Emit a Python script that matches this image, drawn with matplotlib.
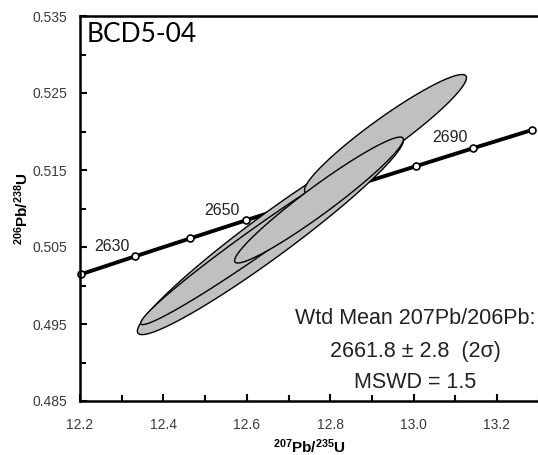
"""Concordia diagram for BCD5-04 with U-Pb error ellipses."""

import matplotlib

matplotlib.use("Agg")
import matplotlib.pyplot as plt
import numpy as np
from matplotlib.ticker import FormatStrFormatter, MultipleLocator

plt.rcParams["font.family"] = ["Liberation Sans", "DejaVu Sans"]
plt.rcParams["mathtext.fontset"] = "custom"
plt.rcParams["mathtext.rm"] = "Liberation Sans"
plt.rcParams["mathtext.bf"] = "Liberation Sans:bold"

# concordia marker ages (Ma) and their ratios
conc_age = [2620, 2630, 2640, 2650, 2660, 2670, 2680, 2690, 2700]
conc_x = [12.2012, 12.3319, 12.4638, 12.5970, 12.7316, 12.8675, 13.0048, 13.1434, 13.2834]
conc_y = [0.50144, 0.50378, 0.50611, 0.50845, 0.51079, 0.51314, 0.51548, 0.51784, 0.52019]
labelled_ages = [2630, 2650, 2690]

# error ellipses: centre, 2-sigma half-widths, error correlation (drawn in order)
ell_cx = [12.6568, 12.6448, 12.9326, 12.7731]
ell_cy = [0.50649, 0.50643, 0.51968, 0.51110]
ell_sx = [0.3192, 0.2993, 0.1942, 0.2024]
ell_sy = [0.01287, 0.01151, 0.00772, 0.00818]
ell_rho = [0.9645, 0.9835, 0.9448, 0.9618]

x_ticks = [12.2, 12.4, 12.6, 12.8, 13.0, 13.2]
y_ticks = [0.485, 0.495, 0.505, 0.515, 0.525, 0.535]

sample = "BCD5-04"
summary = ["Wtd Mean 207Pb/206Pb:", "2661.8 \u00b1 2.8  (2\u03c3)", "MSWD = 1.5"]


def ellipse_xy(cx, cy, sx, sy, rho, n=200):
    t = np.linspace(0, 2 * np.pi, n)
    x = cx + sx * np.cos(t)
    y = cy + sy * (rho * np.cos(t) + np.sqrt(1 - rho**2) * np.sin(t))
    return x, y


fig = plt.figure(figsize=(5.38, 4.55), dpi=100)
ax = fig.add_axes([80 / 538, 54 / 455, 458.7 / 538, 385 / 455])

ax.plot(conc_x, conc_y, color="black", lw=2.8, zorder=2, clip_on=False)
ax.plot(conc_x, conc_y, "o", ms=5, mfc="white", mec="black", mew=1.2,
        zorder=2.5, clip_on=False)
for age, x, y in zip(conc_age, conc_x, conc_y):
    if age in labelled_ages:
        ax.annotate(str(age), (x, y), xytext=(-4, 2), textcoords="offset points",
                    ha="right", va="bottom", fontsize=11.5, color="#222222")

for i in range(len(ell_cx)):
    ex, ey = ellipse_xy(ell_cx[i], ell_cy[i], ell_sx[i], ell_sy[i], ell_rho[i])
    ax.fill(ex, ey, facecolor="#c0c0c0", edgecolor="black", lw=1.0, zorder=3 + i)

ax.set_xlim(12.2, 13.3)
ax.set_ylim(0.485, 0.535)
ax.set_xticks(x_ticks)
ax.set_yticks(y_ticks)
ax.xaxis.set_minor_locator(MultipleLocator(0.1))
ax.yaxis.set_minor_locator(MultipleLocator(0.005))
ax.xaxis.set_major_formatter(FormatStrFormatter("%.1f"))
ax.yaxis.set_major_formatter(FormatStrFormatter("%.3f"))
ax.tick_params(which="both", direction="in", top=False, right=False,
               width=1.5, labelsize=10, labelcolor="#3a3a3a", pad=9)
ax.tick_params(axis="x", which="major", pad=12)
ax.tick_params(which="major", length=5)
ax.tick_params(which="minor", length=4)
for side in ["left", "bottom", "top"]:
    ax.spines[side].set_linewidth(1.8)
ax.spines["right"].set_visible(False)

ax.set_xlabel(r"$\mathbf{^{207}}$Pb/$\mathbf{^{235}}$U", fontsize=11, fontweight="bold",
              labelpad=4)
ax.set_ylabel(r"$\mathbf{^{206}}$Pb/$\mathbf{^{238}}$U", fontsize=11, fontweight="bold",
              labelpad=1)

ax.text(0.015, 0.985, sample, transform=ax.transAxes, ha="left", va="top",
        fontsize=19, family=["Lato", "DejaVu Sans"])

line_y = [318, 352, 382]
for s, py in zip(summary, line_y):
    ax.text(415 / 538, 1 - py / 455, s, transform=fig.transFigure, ha="center",
            va="center", fontsize=15.5, color="#222222")

fig.savefig("out.png", dpi=100)
